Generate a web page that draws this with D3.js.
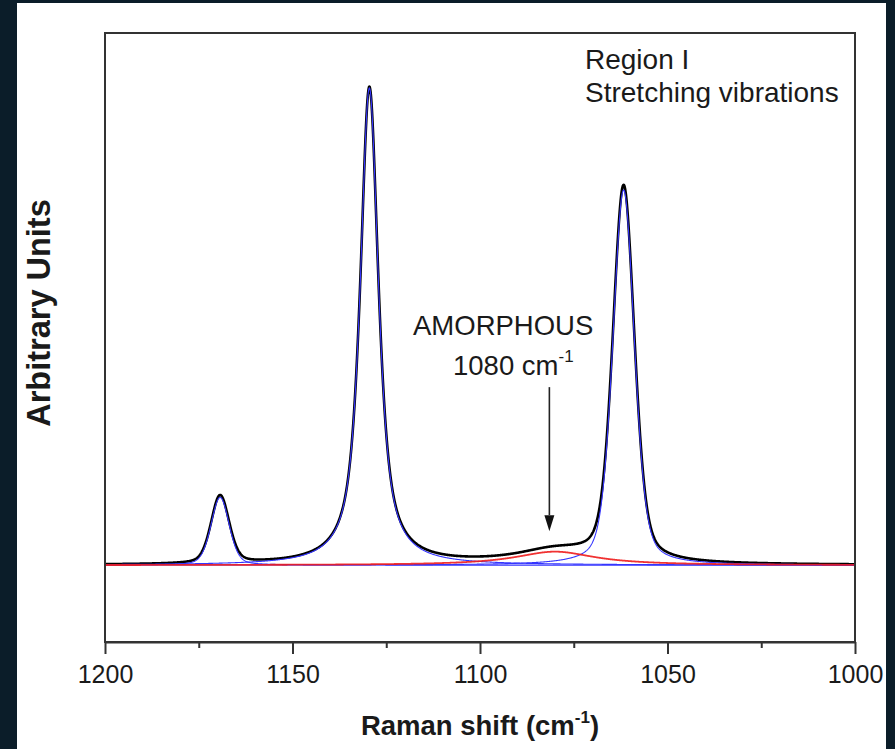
<!DOCTYPE html>
<html>
<head>
<meta charset="utf-8">
<script src="https://cdn.jsdelivr.net/npm/d3@7"></script>
<style>
  html, body { margin: 0; padding: 0; background: #0b1d29; }
  svg { display: block; }
  text { font-family: "Liberation Sans", Arial, sans-serif; fill: #1a1a1a; }
</style>
</head>
<body>
<svg id="chart" width="895" height="749"></svg>
<script>
// ---- Data ----
// Crystalline bands (blue components): position (cm-1), height (a.u.), FWHM (cm-1), Lorentzian fraction
const peakCenters = [1169.3, 1129.5, 1061.7];
const peakHeights = [0.142, 1.0, 0.786];
const peakWidths  = [5.7, 5.8, 6.8];
const peakLorentz = [0.3, 0.8, 0.35];
// Amorphous band (red component)
const amorphCenter = [1080];
const amorphHeight = [0.0283];
const amorphWidth  = [26];
const amorphLorentz = [1.0];
// Axis ticks
const majorTicks = [1200, 1150, 1100, 1050, 1000];
const minorTicks = [1175, 1125, 1075, 1025];
const xDomain = [1200, 1000];
const yDomain = [-0.161, 1.115];

// pseudo-Voigt band profile from the band parameters above
function band(x, c, h, w, eta) {
  const d = x - c;
  const g2 = (w / 2) * (w / 2);
  const L = g2 / (d * d + g2);
  const G = Math.exp(-4 * Math.LN2 * d * d / (w * w));
  return h * (eta * L + (1 - eta) * G);
}

const svg = d3.select("#chart");
// white panel
svg.append("rect").attr("x", 17).attr("y", 3).attr("width", 869).attr("height", 746).attr("fill", "#ffffff");

const x = d3.scaleLinear().domain(xDomain).range([105, 855]);
const y = d3.scaleLinear().domain(yDomain).range([642, 33]);

// evaluation grid along the wavenumber axis
const grid = d3.range(1000, 1200.0001, 0.1);

const blueSeries = peakCenters.map((c, i) =>
  grid.map(v => [v, band(v, c, peakHeights[i], peakWidths[i], peakLorentz[i])]));
const redSeries = grid.map(v => [v, band(v, amorphCenter[0], amorphHeight[0], amorphWidth[0], amorphLorentz[0])]);
const totalSeries = grid.map((v, k) => [v, redSeries[k][1] + blueSeries.reduce((s, ser) => s + ser[k][1], 0)]);

const line = d3.line().x(d => x(d[0])).y(d => y(d[1]));

const plot = svg.append("g");
plot.append("path").datum(totalSeries).attr("d", line)
  .attr("fill", "none").attr("stroke", "#000000").attr("stroke-width", 2.6).attr("stroke-linejoin", "round");
blueSeries.forEach(ser => {
  plot.append("path").datum(ser).attr("d", line)
    .attr("fill", "none").attr("stroke", "#3535ff").attr("stroke-width", 1.1);
});
plot.append("path").datum(redSeries).attr("d", line)
  .attr("fill", "none").attr("stroke", "#ee1c1c").attr("stroke-width", 1.8).attr("stroke-opacity", 0.9);

// frame
svg.append("rect").attr("x", 105).attr("y", 33).attr("width", 750).attr("height", 609)
  .attr("fill", "none").attr("stroke", "#333333").attr("stroke-width", 2);

// bottom axis
const axMinor = svg.append("g").attr("transform", "translate(0,642)")
  .call(d3.axisBottom(x).tickValues(minorTicks).tickSize(6).tickSizeOuter(0).tickFormat(""));
axMinor.select(".domain").remove();
axMinor.selectAll("line").attr("stroke", "#333333").attr("stroke-width", 2);

const axMajor = svg.append("g").attr("transform", "translate(0,642)")
  .call(d3.axisBottom(x).tickValues(majorTicks).tickSize(12).tickSizeOuter(0).tickPadding(11).tickFormat(d3.format("d")));
axMajor.select(".domain").attr("stroke", "#333333").attr("stroke-width", 2);
axMajor.selectAll("line").attr("stroke", "#333333").attr("stroke-width", 2);
axMajor.selectAll("text").attr("font-size", 25).attr("font-family", "Liberation Sans, Arial, sans-serif").attr("fill", "#1a1a1a");

// axis titles
const xt = svg.append("text").attr("x", 480).attr("y", 735).attr("text-anchor", "middle")
  .attr("font-size", 27.5).attr("font-weight", "bold");
xt.append("tspan").text("Raman shift (cm");
xt.append("tspan").attr("font-size", 17).attr("dy", -12).text("-1");
xt.append("tspan").attr("dy", 12).text(")");

svg.append("text").attr("transform", "translate(50,313) rotate(-90)").attr("text-anchor", "middle")
  .attr("font-size", 32.5).attr("font-weight", "bold").text("Arbitrary Units");

// annotations
svg.append("text").attr("x", 585).attr("y", 69).attr("font-size", 28).text("Region I");
svg.append("text").attr("x", 585).attr("y", 102).attr("font-size", 28).text("Stretching vibrations");

svg.append("text").attr("x", 413).attr("y", 335).attr("font-size", 27.5).text("AMORPHOUS");
const t2 = svg.append("text").attr("x", 453).attr("y", 375).attr("font-size", 27.5);
t2.append("tspan").text("1080 cm");
t2.append("tspan").attr("font-size", 17).attr("dy", -13).text("-1");

// arrow pointing to the amorphous band
const arrowX = x(1081.5);
svg.append("line").attr("x1", arrowX).attr("x2", arrowX).attr("y1", y(0.373)).attr("y2", y(0.105))
  .attr("stroke", "#222222").attr("stroke-width", 1.6);
const tipY = y(0.071);
svg.append("path")
  .attr("d", `M${arrowX - 5},${tipY - 16} L${arrowX + 5},${tipY - 16} L${arrowX},${tipY} Z`)
  .attr("fill", "#111111");
</script>
</body>
</html>
